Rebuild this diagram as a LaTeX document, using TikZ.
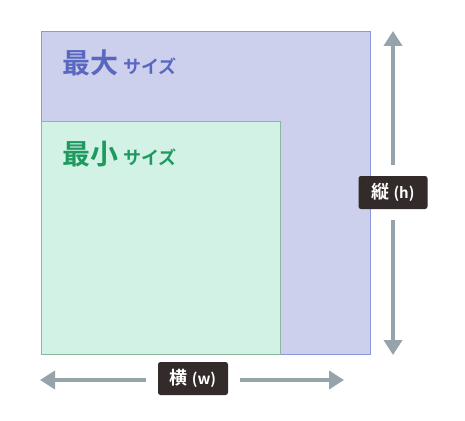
\documentclass[tikz,border=0pt]{standalone}
\usepackage{fontspec}
\setmainfont{Noto Sans CJK JP}
\newfontfamily\jpb{Noto Sans CJK JP Bold}
\usetikzlibrary{arrows.meta}
\definecolor{maxfill}{HTML}{CDD0EC}
\definecolor{maxline}{HTML}{8E96DD}
\definecolor{minfill}{HTML}{D2F2E6}
\definecolor{minline}{HTML}{8DB5A0}
\definecolor{maxtext}{HTML}{5A67C0}
\definecolor{mintext}{HTML}{1E9A60}
\definecolor{arrowc}{HTML}{95A3AB}
\definecolor{labelbg}{HTML}{332A2A}
\tikzset{
  sizebox/.style={anchor=north west,inner sep=0pt,outer sep=0pt,line width=0.8pt},
  titletext/.style={anchor=base west,inner sep=0pt,font=\jpb\fontsize{28pt}{28pt}\selectfont},
  dimlabel/.style={fill=labelbg,text=white,rounded corners=2.5pt,inner sep=0pt,font=\jpb\fontsize{18pt}{18pt}\selectfont},
  dimarrow/.style={draw=arrowc,line width=4pt,-{Triangle[length=15pt,width=18pt]}},
}
\begin{document}
\begin{tikzpicture}[x=1pt,y=-1pt]
\useasboundingbox (0,0) rectangle (465,420);
\node[sizebox,draw=maxline,fill=maxfill,minimum width=329pt,minimum height=323pt] (maxbox) at (41,31) {};
\node[sizebox,draw=minline,fill=minfill,minimum width=239pt,minimum height=233pt] (minbox) at (41,121) {};
\node[titletext,text=maxtext] (maxt) at (62,74) {最大\hspace{5pt}{\fontsize{18pt}{18pt}\selectfont サイズ}};
\node[titletext,text=mintext] (mint) at (62,164) {最小\hspace{5pt}{\fontsize{18pt}{18pt}\selectfont サイズ}};
\node[dimlabel,minimum width=69pt,minimum height=33pt] (hlab) at (393,192.5) {縦\hspace{4pt}{\fontsize{15pt}{15pt}\selectfont (h)}};
\node[dimlabel,minimum width=70pt,minimum height=33pt] (wlab) at (193,378.5) {横\hspace{4pt}{\fontsize{15pt}{15pt}\selectfont (w)}};
\coordinate (htop) at (393,31);
\coordinate (hbot) at (393,355);
\coordinate (wleft) at (40,380);
\coordinate (wright) at (344,380);
\draw[dimarrow,shorten <=11pt] (hlab.north) -- (htop);
\draw[dimarrow,shorten <=11pt] (hlab.south) -- (hbot);
\draw[dimarrow,shorten <=12pt] (wlab.west |- wleft) -- (wleft);
\draw[dimarrow,shorten <=12pt] (wlab.east |- wright) -- (wright);
\end{tikzpicture}
\end{document}
